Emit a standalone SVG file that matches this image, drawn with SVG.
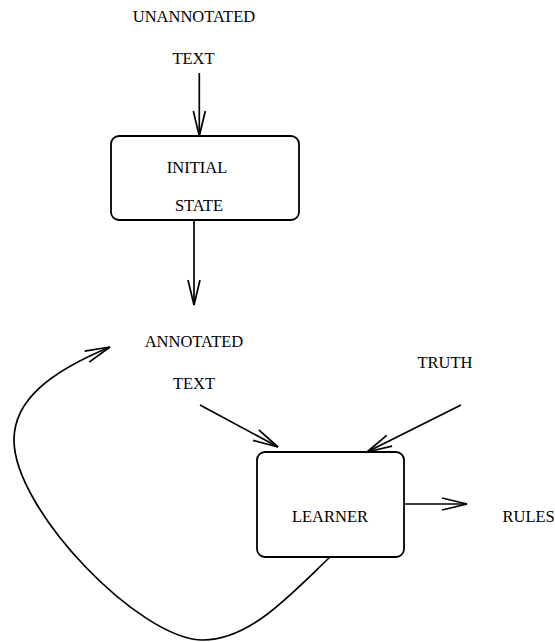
<svg xmlns="http://www.w3.org/2000/svg" width="555" height="642" viewBox="0 0 555 642">
  <style>
    .lbl { font-family: "Liberation Serif", "Times New Roman", serif; font-size: 16.5px; fill: #000; }
    .box { fill: #fff; stroke: #000; stroke-width: 1.8; }
    .edge { fill: none; stroke: #000; stroke-width: 1.7; }
  </style>
  <defs>
    <marker id="vhead" markerUnits="userSpaceOnUse" markerWidth="30" markerHeight="16" viewBox="-27 -8 30 16" refX="0" refY="0" orient="auto" overflow="visible">
      <path d="M -25 -6 L 0 0 L -25 6" fill="none" stroke="#000" stroke-width="1.7"/>
    </marker>
  </defs>
  <rect width="555" height="642" fill="#fff"/>

  <g id="edges">
    <line class="edge" x1="199.3" y1="73" x2="199.3" y2="136" marker-end="url(#vhead)"/>
    <line class="edge" x1="194" y1="220" x2="194" y2="305" marker-end="url(#vhead)"/>
    <line class="edge" x1="200" y1="405" x2="278" y2="447" marker-end="url(#vhead)"/>
    <line class="edge" x1="461" y1="405" x2="367" y2="452" marker-end="url(#vhead)"/>
    <line class="edge" x1="404" y1="504" x2="467" y2="504" marker-end="url(#vhead)"/>
    <!-- feedback loop from the learner back to the annotated text -->
    <path class="edge" d="M 330 557 C 290 595, 250 640, 203 640 C 140 640, 14 510, 14 440 C 14 400, 50 372, 110 347" marker-end="url(#vhead)"/>
  </g>

  <g id="unannotated-text">
    <text class="lbl" x="194" y="21.5" text-anchor="middle">UNANNOTATED</text>
    <text class="lbl" x="193.5" y="63.5" text-anchor="middle">TEXT</text>
  </g>

  <g id="initial-state">
    <rect class="box" x="111" y="136" width="188" height="84" rx="8"/>
    <text class="lbl" x="197" y="173" text-anchor="middle">INITIAL</text>
    <text class="lbl" x="199" y="210.5" text-anchor="middle">STATE</text>
  </g>

  <g id="annotated-text">
    <text class="lbl" x="194" y="347" text-anchor="middle">ANNOTATED</text>
    <text class="lbl" x="194" y="389" text-anchor="middle">TEXT</text>
  </g>

  <g id="truth">
    <text class="lbl" x="445" y="368" text-anchor="middle">TRUTH</text>
  </g>

  <g id="learner">
    <rect class="box" x="257" y="452" width="147" height="105" rx="8"/>
    <text class="lbl" x="330" y="521.5" text-anchor="middle">LEARNER</text>
  </g>

  <g id="rules">
    <text class="lbl" x="502.5" y="521.5">RULES</text>
  </g>
</svg>
